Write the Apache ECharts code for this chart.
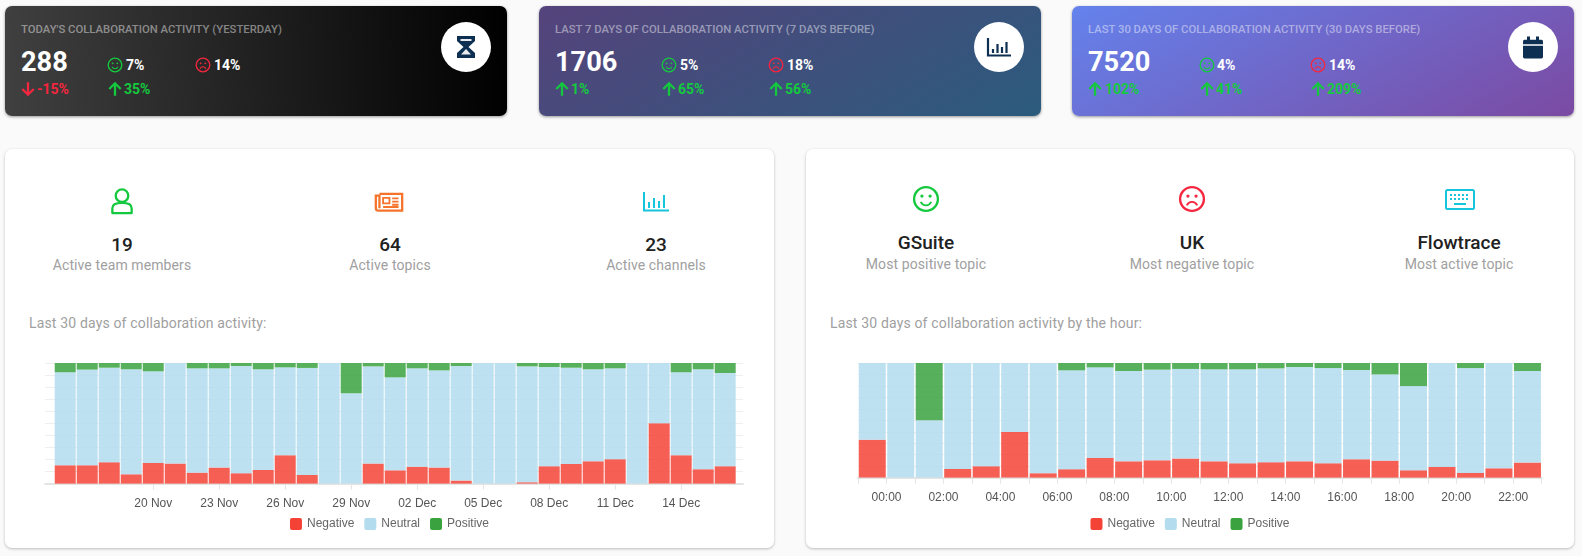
<!DOCTYPE html>
<html>
<head>
<meta charset="utf-8">
<script src="https://cdn.jsdelivr.net/npm/echarts@6/dist/echarts.min.js"></script>
<style>
html,body{margin:0;padding:0;width:1582px;height:556px;overflow:hidden;background:#fafafa;font-family:Roboto,sans-serif}
.card{position:absolute;border-radius:7px;box-shadow:0 1px 3px rgba(0,0,0,.4)}
.top{top:6px;width:502px;height:110px}
.t{position:absolute;white-space:nowrap;line-height:20px}
.title{font-size:11.3px;font-weight:500;color:rgba(255,255,255,.45);top:14px}
.big{font-size:27.2px;font-weight:700;color:#fff;top:46px}
.pct{font-size:14px;font-weight:700;color:#fff;top:49px}
.chg{font-size:14px;font-weight:700;top:73px}
.up{color:#14c93e}.down{color:#f5263f}
.circle{position:absolute;top:16px;width:50px;height:50px;border-radius:50%;background:#fff}
.circle svg{position:absolute;left:10px;top:10px}
.ic{position:absolute}
.s{top:51px}
.a{top:75px}
.panel{position:absolute;top:149px;height:399px;background:#fff;border-radius:7px;box-shadow:0 1px 3px rgba(0,0,0,.25)}
.c{position:absolute;white-space:nowrap;transform:translateX(-50%);line-height:20px}
.val{font-size:19px;font-weight:500;color:#212121}
.lab{font-size:14px;color:#a0a0a0;letter-spacing:.1px}
.ctitle{position:absolute;font-size:14px;color:#a0a0a0;top:164px;line-height:20px;white-space:nowrap;letter-spacing:.16px}
.chart{position:absolute;top:340px;height:208px}
</style>
</head>
<body>
<svg width="0" height="0" style="position:absolute">
<defs>
<symbol id="smile" viewBox="0 0 24 24"><circle cx="12" cy="12" r="10.2" fill="none" stroke="currentColor" stroke-width="2"/><circle cx="8.5" cy="9.5" r="1.4" fill="currentColor"/><circle cx="15.5" cy="9.5" r="1.4" fill="currentColor"/><path d="M7.5 14.5c1 2 2.6 3 4.5 3s3.500-1 4.500-3" fill="none" stroke="currentColor" stroke-width="1.600"/></symbol>
<symbol id="sad" viewBox="0 0 24 24"><circle cx="12" cy="12" r="10.200" fill="none" stroke="currentColor" stroke-width="2"/><circle cx="8.500" cy="9.500" r="1.400" fill="currentColor"/><circle cx="15.500" cy="9.500" r="1.400" fill="currentColor"/><path d="M7.500 17.500c1-2 2.600-3 4.500-3s3.500 1 4.500 3" fill="none" stroke="currentColor" stroke-width="1.600"/></symbol>
<symbol id="up" viewBox="0 0 14 14"><path d="M7 13V2M2 7l5-5 5 5" fill="none" stroke="currentColor" stroke-width="2"/></symbol>
<symbol id="down" viewBox="0 0 14 14"><path d="M7 1v11M2 7l5 5 5-5" fill="none" stroke="currentColor" stroke-width="2"/></symbol>
</defs>
</svg>

<div class="card top" style="left:5px;background:linear-gradient(87deg,#404040,#000)">
<div class="t title" style="left:16px">TODAY'S COLLABORATION ACTIVITY (YESTERDAY)</div>
<div class="t big" style="left:16px">288</div>
<svg class="ic s" style="left:102px;color:#14c93e" width="16" height="16"><use href="#smile"/></svg>
<div class="t pct" style="left:121px">7%</div>
<svg class="ic s" style="left:190px;color:#f5263f" width="16" height="16"><use href="#sad"/></svg>
<div class="t pct" style="left:209px">14%</div>
<svg class="ic a down" style="left:14.500px" width="16" height="16"><use href="#down"/></svg>
<div class="t chg down" style="left:32px">-15%</div>
<svg class="ic a up" style="left:101.500px" width="16" height="16"><use href="#up"/></svg>
<div class="t chg up" style="left:119px">35%</div>
<div class="circle" style="left:436px"><svg width="30" height="30" viewBox="0 0 30 30"><path d="M6 4h18v5l-6.500 6 6.500 6v5H6v-5l6.500-6L6 9z" fill="#0d2f52"/><path d="M9.500 7h11v2h-11z M15 17l5 5.500H10z" fill="#fff" opacity=".9"/></svg></div>
</div>

<div class="card top" style="left:539px;background:linear-gradient(150deg,#55437c,#2b5b7d)">
<div class="t title" style="left:16px">LAST 7 DAYS OF COLLABORATION ACTIVITY (7 DAYS BEFORE)</div>
<div class="t big" style="left:16px">1706</div>
<svg class="ic s" style="left:122px;color:#14c93e" width="16" height="16"><use href="#smile"/></svg>
<div class="t pct" style="left:141px">5%</div>
<svg class="ic s" style="left:229px;color:#f5263f" width="16" height="16"><use href="#sad"/></svg>
<div class="t pct" style="left:248px">18%</div>
<svg class="ic a up" style="left:14.500px" width="16" height="16"><use href="#up"/></svg>
<div class="t chg up" style="left:32px">1%</div>
<svg class="ic a up" style="left:121.500px" width="16" height="16"><use href="#up"/></svg>
<div class="t chg up" style="left:139px">65%</div>
<svg class="ic a up" style="left:228.500px" width="16" height="16"><use href="#up"/></svg>
<div class="t chg up" style="left:246px">56%</div>
<div class="circle" style="left:435px"><svg width="30" height="30" viewBox="0 0 30 30" fill="none" stroke="#0d2f52"><path d="M4 6v17.500h23" stroke-width="2.200"/><path d="M9 17v4M13.500 12v9M18 15v6M22.500 10v11" stroke-width="2.200"/></svg></div>
</div>

<div class="card top" style="left:1072px;background:linear-gradient(150deg,#6482ec,#7b4aa2)">
<div class="t title" style="left:16px">LAST 30 DAYS OF COLLABORATION ACTIVITY (30 DAYS BEFORE)</div>
<div class="t big" style="left:16px">7520</div>
<svg class="ic s" style="left:127px;color:#14c93e" width="16" height="16"><use href="#smile"/></svg>
<div class="t pct" style="left:145px">4%</div>
<svg class="ic s" style="left:238px;color:#f5263f" width="16" height="16"><use href="#sad"/></svg>
<div class="t pct" style="left:257px">14%</div>
<svg class="ic a up" style="left:14.500px" width="16" height="16"><use href="#up"/></svg>
<div class="t chg up" style="left:33px">102%</div>
<svg class="ic a up" style="left:126.500px" width="16" height="16"><use href="#up"/></svg>
<div class="t chg up" style="left:144px">41%</div>
<svg class="ic a up" style="left:237.500px" width="16" height="16"><use href="#up"/></svg>
<div class="t chg up" style="left:255px">209%</div>
<div class="circle" style="left:436px"><svg style="top:8.500px" width="30" height="33" viewBox="0 0 30 30" preserveAspectRatio="none"><path d="M9 5h3v3h6V5h3v3h2.500A1.500 1.500 0 0 1 25 9.500V12H5V9.500A1.500 1.500 0 0 1 6.500 8H9zM5 13.500h20v10a1.500 1.500 0 0 1-1.500 1.500h-17A1.500 1.500 0 0 1 5 23.500z" fill="#0d2f52"/></svg></div>
</div>

<div class="panel" style="left:5px;width:769px">
<svg class="ic" style="left:105px;top:39px" width="24" height="27" viewBox="0 0 24 28" fill="none" stroke="#14c93e" stroke-width="2.400"><ellipse cx="12" cy="8" rx="6.500" ry="6.500"/><path d="M2 26v-5c0-3 3-5.500 10-5.500s10 2.500 10 5.500v5z" stroke-linejoin="round"/></svg>
<div class="c val" style="left:117px;top:86px">19</div>
<div class="c lab" style="left:117px;top:106px">Active team members</div>
<svg class="ic" style="left:369px;top:42.500px" width="30" height="20" viewBox="0 0 31 22" fill="none" stroke="#f5732a" stroke-width="2.500"><path d="M5 2h25v18.500H4a3 3 0 0 1-3-3V4h4v14"/><path d="M9 6.500h7v6H9zM19 7h7M19 10.500h7M19 14h7M9 16.500h17" stroke-width="2"/></svg>
<div class="c val" style="left:385px;top:86px">64</div>
<div class="c lab" style="left:385px;top:106px">Active topics</div>
<svg class="ic" style="left:638px;top:42.500px" width="26" height="20" viewBox="0 0 26 20" fill="none" stroke="#16c5dc" stroke-width="2"><path d="M1 0v18.500h25"/><path d="M6 10v6M11 6v10M16 9v7M21 3v13"/></svg>
<div class="c val" style="left:651px;top:86px">23</div>
<div class="c lab" style="left:651px;top:106px">Active channels</div>
<div class="ctitle" style="left:24px">Last 30 days of collaboration activity:</div>
</div>

<div class="panel" style="left:806px;width:768px">
<svg class="ic" style="left:106px;top:36px;color:#14c93e" width="28" height="28"><use href="#smile"/></svg>
<div class="c val" style="left:120px;top:84px">GSuite</div>
<div class="c lab" style="left:120px;top:105px">Most positive topic</div>
<svg class="ic" style="left:372px;top:36px;color:#f5263f" width="28" height="28"><use href="#sad"/></svg>
<div class="c val" style="left:386px;top:84px">UK</div>
<div class="c lab" style="left:386px;top:105px">Most negative topic</div>
<svg class="ic" style="left:639px;top:40px" width="30" height="21" viewBox="0 0 30 21" fill="none" stroke="#16c5dc" stroke-width="2"><rect x="1" y="1" width="28" height="19" rx="1.500"/><path d="M5 6h20M5 10h20" stroke-dasharray="2 2"/><path d="M9 15h12"/></svg>
<div class="c val" style="left:653px;top:84px">Flowtrace</div>
<div class="c lab" style="left:653px;top:105px">Most active topic</div>
<div class="ctitle" style="left:24px">Last 30 days of collaboration activity by the hour:</div>
</div>

<div id="chartDays" class="chart" style="left:5px;width:769px"></div>
<div id="chartHours" class="chart" style="left:806px;width:768px"></div>

<script>
const dayLabels = ['16 Nov','17 Nov','18 Nov','19 Nov','20 Nov','21 Nov','22 Nov','23 Nov','24 Nov','25 Nov','26 Nov','27 Nov','28 Nov','29 Nov','30 Nov','01 Dec','02 Dec','03 Dec','04 Dec','05 Dec','06 Dec','07 Dec','08 Dec','09 Dec','10 Dec','11 Dec','12 Dec','13 Dec','14 Dec','15 Dec','16 Dec'];
const dayNegative = [15.2,15.2,17.7,7.7,17.1,16.6,9.1,13.3,8.6,11.3,23.5,7.2,0,0,16.6,11,14,13.3,2.5,0,0,1.1,14.4,16.3,18.5,20.2,0,50,23.5,11.9,14.4];
const dayNeutral = [77.1,79.3,78.4,87.1,76,83.4,86.5,82.3,88.9,83.5,72.9,88.7,100,74.9,80.6,77.1,81.6,80.6,95,100,100,96.1,82.3,79.8,76.3,75.4,100,50,68.8,82.9,77.3];
const dayPositive = [7.7,5.5,3.9,5.2,6.9,0,4.4,4.4,2.5,5.2,3.6,4.1,0,25.1,2.8,11.9,4.4,6.1,2.5,0,0,2.8,3.3,3.9,5.2,4.4,0,0,7.7,5.2,8.3];
const dayTicks = [4,7,10,13,16,19,22,25,28];

const hourLabels = ['00:00','01:00','02:00','03:00','04:00','05:00','06:00','07:00','08:00','09:00','10:00','11:00','12:00','13:00','14:00','15:00','16:00','17:00','18:00','19:00','20:00','21:00','22:00','23:00'];
const hourNegative = [33.1,0,0,7.6,9.9,39.8,3.8,7.3,17.2,14.2,15.1,16.6,14.2,12.5,13.4,14.2,12.5,16,14.8,6.4,9.3,4.1,8.1,13.1];
const hourNeutral = [66.9,100,50,92.4,90.1,60.2,96.2,86.3,79,78.8,79.1,78.2,80.3,82,81.9,82.3,83.1,77.9,75.3,73.5,90.7,91.5,91.9,79.9];
const hourPositive = [0,0,50,0,0,0,0,6.4,3.8,7,5.8,5.2,5.5,5.5,4.7,3.5,4.4,6.1,9.9,20.1,0,4.4,0,7];
const hourTickMarks = [0,1,2,3,4,5,6,7,8,9,10,11,12,13,14,15,16,17,18,19,20,21,22,23,24];
const hourLabelMarks = [1,3,5,7,9,11,13,15,17,19,21,23];

const seriesNames = ['Negative','Neutral','Positive'];
const seriesColors = ['#f44336','#b3dcef','#3aa340'];

function build(id, cfg){
  const chart = echarts.init(document.getElementById(id), null, {renderer:'canvas'});
  chart.setOption({
    animation:false,
    textStyle:{fontFamily:'Liberation Sans, Arial, sans-serif'},
    legend:{
      data:seriesNames.map((n,i)=>({name:n,itemStyle:{color:seriesColors[i],opacity:1}})),
      top:173,left:'center',itemWidth:12,itemHeight:12,itemGap:10,
      icon:'path://M2 0H10A2 2 0 0 1 12 2V10A2 2 0 0 1 10 12H2A2 2 0 0 1 0 10V2A2 2 0 0 1 2 0Z',
      textStyle:{color:'#666',fontSize:12,fontFamily:'Liberation Sans, Arial, sans-serif'}
    },
    grid:{left:cfg.left,width:cfg.width,top:23,height:cfg.height},
    xAxis:{
      type:'value',min:cfg.min,max:cfg.max,
      splitLine:{show:false},
      axisLine:{show:true,onZero:false,lineStyle:{color:'#e4e4e4',width:2}},
      axisTick:{show:true,length:6,customValues:cfg.ticks,lineStyle:{color:'#e4e4e4'}},
      axisLabel:{customValues:cfg.labels,formatter:cfg.fmt,margin:14,color:'#555',fontSize:12,hideOverlap:false}
    },
    yAxis:{
      type:'value',min:0,max:100,interval:10,
      axisLabel:{show:false},axisLine:{show:false},axisTick:{show:false},
      splitLine:{lineStyle:{color:'#eeeeee'}}
    },
    series:cfg.data.map((vals,s)=>({
      name:seriesNames[s],type:'bar',stack:'total',barWidth:cfg.barWidth,
      itemStyle:{color:seriesColors[s],opacity:0.85},
      encode:{x:1,y:0},
      dimensions:['share','slot'],
      data:vals.map((v,i)=>[v,i+cfg.offset])
    }))
  });
}

build('chartDays',{
  left:40,width:698,height:120.6,min:-0.92,max:30.81,offset:0,barWidth:21,
  ticks:dayTicks,labels:dayTicks,fmt:v=>dayLabels[v],
  data:[dayNegative,dayNeutral,dayPositive]
});
build('chartHours',{
  left:52,width:683.7,height:114.6,min:0,max:24,offset:0.5,barWidth:27,
  ticks:hourTickMarks,labels:hourLabelMarks,fmt:v=>hourLabels[v-1],
  data:[hourNegative,hourNeutral,hourPositive]
});
</script>
</body>
</html>
